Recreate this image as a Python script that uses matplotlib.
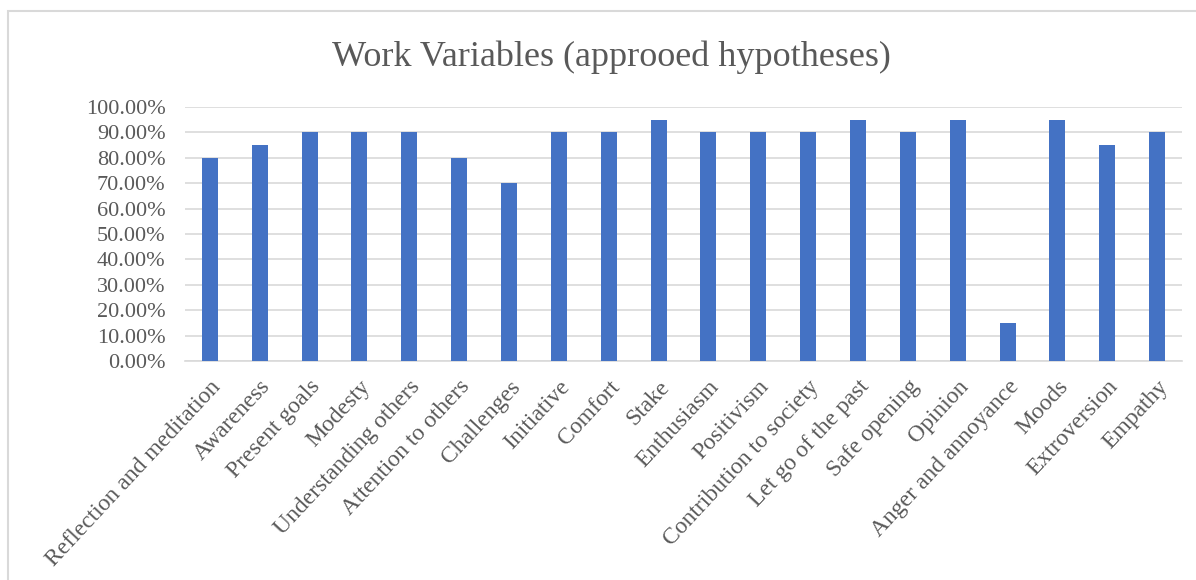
import matplotlib.pyplot as plt
from matplotlib.patches import Rectangle
from matplotlib.ticker import PercentFormatter

categories = ["Reflection and meditation", "Awareness", "Present goals", "Modesty",
              "Understanding others", "Attention to others", "Challenges", "Initiative",
              "Comfort", "Stake", "Enthusiasm", "Positivism", "Contribution to society",
              "Let go of the past", "Safe opening", "Opinion", "Anger and annoyance",
              "Moods", "Extroversion", "Empathy"]
values = [80, 85, 90, 90, 90, 80, 70, 90, 90, 95, 90, 90, 90, 95, 90, 95, 15, 95, 85, 90]
y_ticks = [0, 10, 20, 30, 40, 50, 60, 70, 80, 90, 100]

plt.rcParams['font.family'] = ['Liberation Serif', 'DejaVu Serif']
grey = '#595959'

fig = plt.figure(figsize=(11.96, 5.8), dpi=100)
W, H = 1196, 580
ax = fig.add_axes([185 / W, 1 - 361 / H, (1182 - 185) / W, (361 - 107) / H])

# outer chart frame
fig.patches.append(Rectangle((8 / W, -0.1), 1.2, 1 - 11 / H + 0.1, transform=fig.transFigure,
                             fill=False, edgecolor='#D9D9D9', linewidth=1.5))

x = range(len(categories))
ax.bar(x, values, width=0.32, color='#4472C4', zorder=3)
ax.set_xlim(-0.5, len(categories) - 0.5)
ax.set_ylim(0, 100)
ax.set_yticks(y_ticks)
ax.yaxis.set_major_formatter(PercentFormatter(decimals=2))
ax.grid(axis='y', color='#D9D9D9', linewidth=1.2, zorder=0)
for s in ['top', 'right', 'left']:
    ax.spines[s].set_visible(False)
ax.spines['bottom'].set_color('#D9D9D9')
ax.spines['bottom'].set_linewidth(1.2)
ax.tick_params(axis='both', length=0, colors=grey)
ax.tick_params(axis='y', pad=14, labelsize=16)
ax.tick_params(axis='x', pad=11, labelsize=17)
ax.set_xticks(list(x))
ax.set_xticklabels(categories, rotation=47, ha='right', rotation_mode='anchor')

fig.text(611 / W, 1 - 57 / H, "Work Variables (approoed hypotheses)", ha='center', va='center',
         fontsize=26, color=grey)

fig.savefig('out.png', dpi=100)
